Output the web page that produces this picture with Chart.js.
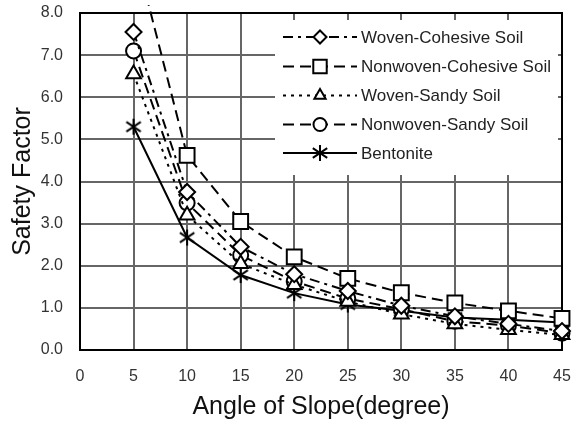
<!DOCTYPE html>
<html><head><meta charset="utf-8">
<script src="https://cdn.jsdelivr.net/npm/chart.js@4/dist/chart.umd.min.js"></script>
<style>html,body{margin:0;padding:0;background:#fff}#wrap{width:579px;height:426px}</style>
</head><body><div id="wrap"><canvas id="c" width="579" height="426"></canvas></div>
<script>
// ---- data ----
const angles = [5, 10, 15, 20, 25, 30, 35, 40, 45];
const wovenCohesive    = [7.55, 3.75, 2.45, 1.80, 1.40, 1.05, 0.80, 0.62, 0.45];
const nonwovenCohesive = [9.60, 4.62, 3.05, 2.21, 1.70, 1.36, 1.12, 0.93, 0.75];
const wovenSandy       = [6.55, 3.20, 2.05, 1.55, 1.15, 0.85, 0.62, 0.48, 0.36];
const nonwovenSandy    = [7.10, 3.49, 2.25, 1.63, 1.22, 0.97, 0.68, 0.58, 0.40];
const bentonite        = [5.30, 2.67, 1.78, 1.35, 1.08, 0.93, 0.77, 0.72, 0.65];
const seriesNames = ['Woven-Cohesive Soil', 'Nonwoven-Cohesive Soil', 'Woven-Sandy Soil', 'Nonwoven-Sandy Soil', 'Bentonite'];
const xTickValues = [0, 5, 10, 15, 20, 25, 30, 35, 40, 45];
const xTickLabels = ['0', '5', '10', '15', '20', '25', '30', '35', '40', '45'];
const yTickValues = [0, 1, 2, 3, 4, 5, 6, 7, 8];
const yTickLabels = ['0.0', '1.0', '2.0', '3.0', '4.0', '5.0', '6.0', '7.0', '8.0'];
const xTitle = 'Angle of Slope(degree)';
const yTitle = 'Safety Factor';

// asterisk marker (vertical bar + X)
function makeAsterisk(size) {
  const c = document.createElement('canvas');
  c.width = size; c.height = size;
  const g = c.getContext('2d');
  g.strokeStyle = '#000'; g.lineWidth = 2; g.lineCap = 'butt';
  const m = size / 2, r = size / 2 - 1;
  g.beginPath();
  g.moveTo(m, m - r); g.lineTo(m, m + r);
  g.moveTo(m - r * 0.9, m - r * 0.6); g.lineTo(m + r * 0.9, m + r * 0.6);
  g.moveTo(m - r * 0.9, m + r * 0.6); g.lineTo(m + r * 0.9, m - r * 0.6);
  g.stroke();
  return c;
}
const asterisk = makeAsterisk(18);

const styles = [
  { pointStyle: 'rectRot', radius: 8, dash: [10, 5, 3, 5] },
  { pointStyle: 'rect', radius: 10.5, dash: [11, 6] },
  { pointStyle: 'triangle', radius: 8.5, dash: [3, 5] },
  { pointStyle: 'circle', radius: 7.5, dash: [11, 6] },
  { pointStyle: asterisk, radius: 9, dash: [] }
];
const allSeries = [wovenCohesive, nonwovenCohesive, wovenSandy, nonwovenSandy, bentonite];

const datasets = allSeries.map((vals, i) => ({
  label: seriesNames[i],
  data: angles.map((a, j) => ({ x: a, y: vals[j] })),
  borderColor: '#000',
  backgroundColor: '#fff',
  borderWidth: 2,
  borderDash: styles[i].dash,
  pointStyle: styles[i].pointStyle,
  pointRadius: styles[i].radius,
  pointBorderWidth: 2,
  pointBorderColor: '#000',
  pointBackgroundColor: '#fff',
  tension: 0,
  clip: { left: 5, top: 8, right: 12, bottom: 5 }
}));

function drawMarker(ctx, st, x, y) {
  if (st.pointStyle instanceof HTMLCanvasElement) {
    ctx.drawImage(st.pointStyle, x - st.pointStyle.width / 2, y - st.pointStyle.height / 2);
    return;
  }
  const r = st.radius;
  ctx.save();
  ctx.setLineDash([]);
  ctx.lineWidth = 2; ctx.strokeStyle = '#000'; ctx.fillStyle = '#fff';
  ctx.beginPath();
  if (st.pointStyle === 'rectRot') {
    ctx.moveTo(x, y - r); ctx.lineTo(x + r, y); ctx.lineTo(x, y + r); ctx.lineTo(x - r, y); ctx.closePath();
  } else if (st.pointStyle === 'rect') {
    const s = r * Math.SQRT1_2; ctx.rect(x - s, y - s, 2 * s, 2 * s);
  } else if (st.pointStyle === 'triangle') {
    for (let k = 0; k < 3; k++) {
      const a = k * 2 * Math.PI / 3;
      const px = x + Math.sin(a) * r, py = y - Math.cos(a) * r;
      if (k === 0) ctx.moveTo(px, py); else ctx.lineTo(px, py);
    }
    ctx.closePath();
  } else {
    ctx.arc(x, y, r, 0, Math.PI * 2);
  }
  ctx.fill(); ctx.stroke();
  ctx.restore();
}

const boxPlugin = {
  id: 'boxAndLegend',
  beforeDatasetsDraw(chart) {
    const { ctx, chartArea: a } = chart;
    ctx.save();
    ctx.fillStyle = '#fff';
    ctx.fillRect(275, 20, 283, 155);
    ctx.strokeStyle = '#000'; ctx.lineWidth = 2;
    ctx.strokeRect(a.left, a.top, a.right - a.left, a.bottom - a.top);
    ctx.restore();
  },
  afterDatasetsDraw(chart) {
    const { ctx } = chart;
    const rows = [37, 66.5, 95.5, 124.5, 153];
    ctx.save();
    rows.forEach((ry, i) => {
      const st = styles[i];
      ctx.strokeStyle = '#000'; ctx.lineWidth = 2;
      ctx.setLineDash(st.dash);
      ctx.beginPath(); ctx.moveTo(283, ry); ctx.lineTo(357, ry); ctx.stroke();
      ctx.setLineDash([]);
      const small = Object.assign({}, st, { radius: st.pointStyle === 'rect' ? 9.5 : 6.5 });
      drawMarker(ctx, small, 320, ry);
      ctx.fillStyle = '#222';
      ctx.font = '17px Arial, "Liberation Sans", sans-serif';
      ctx.textBaseline = 'middle'; ctx.textAlign = 'left';
      ctx.fillText(seriesNames[i], 361, ry + 1);
    });
    ctx.restore();
  }
};

new Chart(document.getElementById('c'), {
  type: 'line',
  data: { datasets },
  options: {
    responsive: false,
    animation: false,
    layout: { padding: 0 },
    plugins: { legend: { display: false }, tooltip: { enabled: false } },
    scales: {
      x: {
        type: 'linear', min: 0, max: 45,
        afterBuildTicks: s => { s.ticks = xTickValues.map(v => ({ value: v })); },
        afterFit: s => { s.height = 76; s.paddingLeft = 0; s.paddingRight = 17; },
        ticks: { callback: (v, i) => xTickLabels[i], font: { family: 'Arial', size: 16 }, color: '#333', padding: 17, maxRotation: 0, autoSkip: false },
        grid: { color: '#666', lineWidth: 2, drawTicks: false },
        border: { display: true, color: '#000', width: 2 },
        title: { display: true, text: xTitle, font: { family: 'Arial', size: 25 }, color: '#111', padding: { top: 0, bottom: 4 } }
      },
      y: {
        type: 'linear', min: 0, max: 8,
        afterBuildTicks: s => { s.ticks = yTickValues.map(v => ({ value: v })); },
        afterFit: s => { s.width = 80; s.paddingTop = 13; s.paddingBottom = 0; },
        ticks: { callback: (v, i) => yTickLabels[i], font: { family: 'Arial', size: 16 }, color: '#333', padding: 17, autoSkip: false },
        grid: { color: '#666', lineWidth: 2, drawTicks: false },
        border: { display: true, color: '#000', width: 2 },
        title: { display: true, text: yTitle, font: { family: 'Arial', size: 25 }, color: '#111', padding: { top: 8, bottom: 0 } }
      }
    }
  },
  plugins: [boxPlugin]
});
</script></body></html>
